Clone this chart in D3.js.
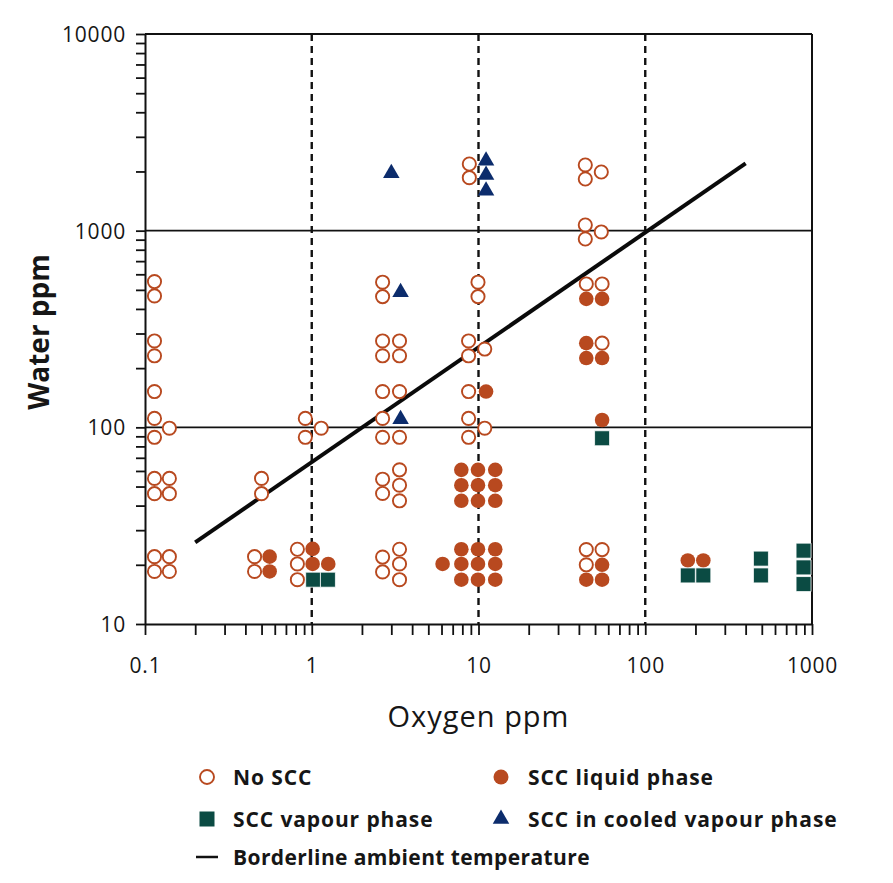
<!DOCTYPE html>
<html>
<head>
<meta charset="utf-8">
<script src="https://cdn.jsdelivr.net/npm/d3@7"></script>
<style>
  body { margin: 0; background: #fff; }
  text { font-family: "Open Sans", Lato, sans-serif; fill: #161616; }
</style>
</head>
<body>
<div class="chart"></div>
<script>
// data: [oxygen ppm, water ppm]
var noScc = [
  [0.114, 551], [0.114, 466], [0.114, 275], [0.114, 231], [0.114, 152], [0.114, 111],
  [0.114, 89], [0.114, 55], [0.114, 46], [0.114, 22], [0.114, 18.5],
  [0.14, 99], [0.14, 55], [0.14, 46], [0.14, 22], [0.14, 18.5],
  [0.50, 55], [0.50, 46], [0.454, 22], [0.454, 18.5],
  [0.82, 24], [0.82, 20.2], [0.82, 16.8], [0.915, 111], [0.915, 89], [1.14, 99],
  [2.66, 547], [2.66, 462], [2.66, 275], [2.66, 231], [2.66, 152], [2.66, 111],
  [2.66, 89], [2.66, 54.5], [2.66, 46.1], [2.66, 21.9], [2.66, 18.4],
  [3.36, 275], [3.36, 231], [3.36, 152], [3.36, 89], [3.36, 60.8], [3.36, 50.8],
  [3.36, 42.3], [3.36, 24], [3.36, 20.2], [3.36, 16.8],
  [8.72, 275], [8.72, 231], [8.72, 152], [8.72, 111], [8.72, 89],
  [8.81, 2183], [8.81, 1859], [9.93, 547], [9.93, 462], [10.9, 250], [10.9, 99],
  [43.7, 2158], [43.7, 1831], [54.5, 1988], [43.7, 1069], [43.7, 907], [54.5, 985],
  [44.3, 536], [55.1, 536], [55.1, 268], [44.3, 23.9], [55.1, 23.9], [44.3, 20]
];

var sccLiquid = [
  [0.559, 22], [0.559, 18.5], [1.012, 24.1], [1.012, 20.2], [1.256, 20.2], [6.09, 20.2],
  [7.89, 60.8], [7.89, 50.8], [7.89, 42.3], [7.89, 24], [7.89, 20.2], [7.89, 16.8],
  [9.93, 60.8], [9.93, 50.8], [9.93, 42.3], [9.93, 24], [9.93, 20.2], [9.93, 16.8],
  [12.6, 60.8], [12.6, 50.8], [12.6, 42.3], [12.6, 24], [12.6, 20.2], [12.6, 16.8],
  [11.1, 152],
  [44.3, 450], [44.3, 268], [44.3, 225], [44.3, 16.8],
  [55.1, 450], [55.1, 225], [55.1, 109], [55.1, 20], [55.1, 16.8],
  [180, 21.05], [223, 21.05]
];

var sccVapour = [
  [1.02, 16.8], [1.25, 16.8], [55.1, 88], [180, 17.66], [223, 17.66],
  [494, 21.5], [494, 17.66], [890, 23.6], [890, 19.4], [890, 15.96]
];

var sccCooled = [
  [3.0, 1957], [3.41, 486], [3.41, 110], [11.1, 2268], [11.1, 1918], [11.1, 1597]
];

// borderline ambient temperature
var borderline = [[0.2, 26], [400, 2200]];

var xTickLabels = ["0.1", "1", "10", "100", "1000"];
var yTickLabels = ["10", "100", "1000", "10000"];
var xDashed = [1, 10, 100];
var yGrid = [100, 1000];

var legendItems = [
  { name: "No SCC", type: "open" },
  { name: "SCC liquid phase", type: "filled" },
  { name: "SCC vapour phase", type: "square" },
  { name: "SCC in cooled vapour phase", type: "triangle" },
  { name: "Borderline ambient temperature", type: "line" }
];

/*----------------------------------------------------------------------------*/

var svgWidth = 893;
var svgHeight = 883;

var margin = { top: 34, right: 81, bottom: 259, left: 145 };
var width = svgWidth - margin.left - margin.right;
var height = svgHeight - margin.top - margin.bottom;

var orange = "#b8491f";
var teal = "#0b4b43";
var navy = "#0c2c6c";

var svg = d3.select(".chart")
  .append("svg")
  .attr("width", svgWidth)
  .attr("height", svgHeight);

var chartGroup = svg.append("g")
  .attr("transform", `translate(${margin.left}, ${margin.top})`);

var xScale = d3.scaleLog().domain([0.1, 1000]).range([0, width]);
var yScale = d3.scaleLog().domain([10, 10000]).range([height, 0]);

// minor ticks 1..9 per decade
function logTicks(lo, hi) {
  var out = [];
  for (var p = lo; p < hi; p *= 10) {
    for (var k = 1; k < 10; k++) out.push(+(p * k).toPrecision(3));
  }
  out.push(hi);
  return out;
}

function labelFor(list) {
  return function(d) {
    var s = String(d);
    return list.indexOf(s) >= 0 ? s : "";
  };
}

// grid lines
chartGroup.selectAll(".ygrid")
  .data(yGrid)
  .enter().append("line")
  .attr("x1", 0).attr("x2", width)
  .attr("y1", d => yScale(d)).attr("y2", d => yScale(d))
  .attr("stroke", "#111").attr("stroke-width", 1.6);

chartGroup.selectAll(".xdash")
  .data(xDashed)
  .enter().append("line")
  .attr("x1", d => xScale(d)).attr("x2", d => xScale(d))
  .attr("y1", 0).attr("y2", height)
  .attr("stroke", "#111").attr("stroke-width", 2.4)
  .attr("stroke-dasharray", "7,5");

// box top / right
chartGroup.append("line")
  .attr("x1", 0).attr("x2", width).attr("y1", 0).attr("y2", 0)
  .attr("stroke", "#111").attr("stroke-width", 2);
chartGroup.append("line")
  .attr("x1", width).attr("x2", width).attr("y1", 0).attr("y2", height)
  .attr("stroke", "#111").attr("stroke-width", 2);

// axes
var bottomAxis = d3.axisBottom(xScale)
  .tickValues(logTicks(0.1, 1000))
  .tickFormat(labelFor(xTickLabels))
  .tickSize(11).tickSizeOuter(0).tickPadding(23);

var leftAxis = d3.axisLeft(yScale)
  .tickValues(logTicks(10, 10000))
  .tickFormat(labelFor(yTickLabels))
  .tickSize(9).tickSizeOuter(0).tickPadding(10);

var xAxis = chartGroup.append("g")
  .attr("transform", `translate(0, ${height})`)
  .call(bottomAxis);

var yAxis = chartGroup.append("g")
  .call(leftAxis);

[xAxis, yAxis].forEach(function(g) {
  g.select(".domain").attr("stroke", "#111").attr("stroke-width", 2);
  g.selectAll(".tick line").attr("stroke", "#111").attr("stroke-width", 1.8);
  g.selectAll(".tick text")
    .style("font-family", "'Open Sans', sans-serif")
    .style("font-size", "21px")
    .style("letter-spacing", "0.8px")
    .attr("fill", "#161616");
});
yAxis.selectAll(".tick text").attr("dy", "0.36em");

// borderline
var line = d3.line()
  .x(d => xScale(d[0]))
  .y(d => yScale(d[1]));

chartGroup.append("path")
  .datum(borderline)
  .attr("d", line)
  .attr("fill", "none")
  .attr("stroke", "#0a0a0a")
  .attr("stroke-width", 4);

// markers
var squareSym = d3.symbol().type(d3.symbolSquare).size(225);
var triSym = d3.symbol().type(d3.symbolTriangle).size(118);

chartGroup.selectAll(".noscc")
  .data(noScc)
  .enter().append("circle")
  .attr("cx", d => xScale(d[0]))
  .attr("cy", d => yScale(d[1]))
  .attr("r", 6.6)
  .attr("fill", "#fff")
  .attr("stroke", orange)
  .attr("stroke-width", 1.9);

chartGroup.selectAll(".liquid")
  .data(sccLiquid)
  .enter().append("circle")
  .attr("cx", d => xScale(d[0]))
  .attr("cy", d => yScale(d[1]))
  .attr("r", 7.3)
  .attr("fill", orange);

chartGroup.selectAll(".vapour")
  .data(sccVapour)
  .enter().append("path")
  .attr("d", squareSym)
  .attr("transform", d => `translate(${xScale(d[0])}, ${yScale(d[1])})`)
  .attr("fill", teal)
  .attr("stroke", "#fff")
  .attr("stroke-width", 0.8);

chartGroup.selectAll(".cooled")
  .data(sccCooled)
  .enter().append("path")
  .attr("d", triSym)
  .attr("transform", d => `translate(${xScale(d[0])}, ${yScale(d[1])})`)
  .attr("fill", navy);

// axis titles
svg.append("text")
  .attr("x", margin.left + xScale(10))
  .attr("y", 727)
  .attr("text-anchor", "middle")
  .style("font-size", "29px")
  .style("letter-spacing", "1px")
  .text("Oxygen ppm");

svg.append("text")
  .attr("transform", "rotate(-90)")
  .attr("x", -332)
  .attr("y", 49)
  .attr("text-anchor", "middle")
  .style("font-size", "28px")
  .style("font-weight", "bold")
  .text("Water ppm");

// legend
var legendPos = [[207, 777], [501, 777], [207, 819], [501, 819], [207, 857]];

var legend = svg.selectAll(".legend")
  .data(legendItems)
  .enter().append("g")
  .attr("transform", (d, i) => `translate(${legendPos[i][0]}, ${legendPos[i][1]})`);

legend.each(function(d) {
  var g = d3.select(this);
  if (d.type === "open") {
    g.append("circle").attr("r", 7).attr("fill", "#fff")
      .attr("stroke", orange).attr("stroke-width", 1.9);
  } else if (d.type === "filled") {
    g.append("circle").attr("r", 7.5).attr("fill", orange);
  } else if (d.type === "square") {
    g.append("path").attr("d", squareSym).attr("fill", teal);
  } else if (d.type === "triangle") {
    g.append("path").attr("d", triSym).attr("fill", navy);
  } else {
    g.append("line").attr("x1", -11).attr("x2", 11)
      .attr("stroke", "#111").attr("stroke-width", 2.5);
  }
});

legend.append("text")
  .attr("x", (d, i) => i % 2 === 1 ? 27 : 26)
  .attr("dy", "0.36em")
  .style("font-size", "21px")
  .style("font-weight", "bold")
  .style("letter-spacing", d => d.type === "line" ? "0.4px" : "0.9px")
  .text(d => d.name);
</script>
</body>
</html>
